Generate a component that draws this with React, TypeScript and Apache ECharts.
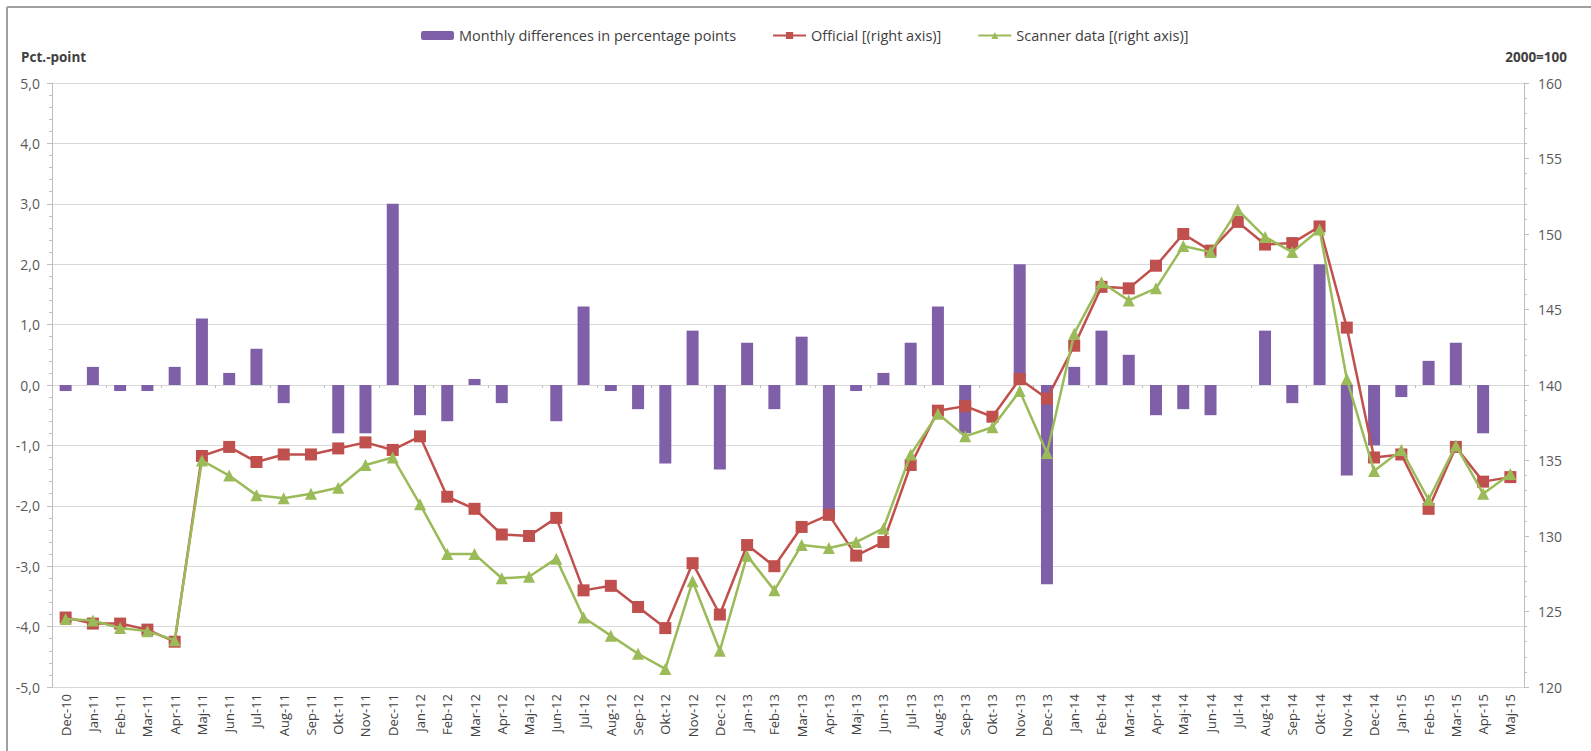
import React, { useEffect, useRef } from "react";
import * as echarts from "echarts";

const categories: string[] = [
  "Dec-10",
  "Jan-11", "Feb-11", "Mar-11", "Apr-11", "Maj-11", "Jun-11", "Jul-11", "Aug-11", "Sep-11", "Okt-11", "Nov-11", "Dec-11",
  "Jan-12", "Feb-12", "Mar-12", "Apr-12", "Maj-12", "Jun-12", "Jul-12", "Aug-12", "Sep-12", "Okt-12", "Nov-12", "Dec-12",
  "Jan-13", "Feb-13", "Mar-13", "Apr-13", "Maj-13", "Jun-13", "Jul-13", "Aug-13", "Sep-13", "Okt-13", "Nov-13", "Dec-13",
  "Jan-14", "Feb-14", "Mar-14", "Apr-14", "Maj-14", "Jun-14", "Jul-14", "Aug-14", "Sep-14", "Okt-14", "Nov-14", "Dec-14",
  "Jan-15", "Feb-15", "Mar-15", "Apr-15", "Maj-15",
];

const monthlyDiff: number[] = [
  -0.1,
  0.3, -0.1, -0.1, 0.3, 1.1, 0.2, 0.6, -0.3, 0, -0.8, -0.8, 3.0,
  -0.5, -0.6, 0.1, -0.3, 0, -0.6, 1.3, -0.1, -0.4, -1.3, 0.9, -1.4,
  0.7, -0.4, 0.8, -2.2, -0.1, 0.2, 0.7, 1.3, -0.8, 0, 2.0, -3.3,
  0.3, 0.9, 0.5, -0.5, -0.4, -0.5, 0, 0.9, -0.3, 2.0, -1.5, -1.0,
  -0.2, 0.4, 0.7, -0.8, 0,
];

const official: number[] = [
  124.6,
  124.2, 124.2, 123.8, 123.0, 135.3, 135.9, 134.9, 135.4, 135.4, 135.8, 136.2, 135.7,
  136.6, 132.6, 131.8, 130.1, 130.0, 131.2, 126.4, 126.7, 125.3, 123.9, 128.2, 124.8,
  129.4, 128.0, 130.6, 131.4, 128.7, 129.6, 134.7, 138.3, 138.6, 137.9, 140.4, 139.1,
  142.6, 146.5, 146.4, 147.9, 150.0, 148.9, 150.8, 149.3, 149.4, 150.5, 143.8, 135.2,
  135.4, 131.8, 135.9, 133.6, 133.9,
];

const scanner: number[] = [
  124.5,
  124.4, 123.9, 123.7, 123.1, 135.0, 134.0, 132.7, 132.5, 132.8, 133.2, 134.7, 135.2,
  132.1, 128.8, 128.8, 127.2, 127.3, 128.5, 124.6, 123.4, 122.2, 121.2, 127.0, 122.4,
  128.7, 126.4, 129.4, 129.2, 129.6, 130.5, 135.4, 138.1, 136.6, 137.2, 139.6, 135.5,
  143.4, 146.8, 145.6, 146.4, 149.2, 148.8, 151.6, 149.8, 148.8, 150.3, 140.4, 134.3,
  135.7, 132.4, 136.0, 132.8, 134.1,
];

const seriesNames = [
  "Monthly differences in percentage points",
  "Official [(right axis)]",
  "Scanner data [(right axis)]",
];

const FONT = "'Open Sans', 'DejaVu Sans', sans-serif";

export default function App() {
  const ref = useRef<HTMLDivElement>(null);

  useEffect(() => {
    if (!ref.current) return;
    const chart = echarts.init(ref.current, undefined, { renderer: "svg" });
    const axisGray = "#BFBFBF";
    const gridGray = "#D9D9D9";
    const textGray = "#404040";

    chart.setOption({
      animation: false,
      backgroundColor: "#FFFFFF",
      textStyle: { fontFamily: FONT },
      graphic: [
        { type: "line", shape: { x1: 7, y1: 7, x2: 1591, y2: 7 }, style: { stroke: "#A0A0A0", lineWidth: 2 } },
        { type: "line", shape: { x1: 7, y1: 7, x2: 7, y2: 751 }, style: { stroke: "#A0A0A0", lineWidth: 2 } },
        {
          type: "text", left: 21, top: 50,
          style: { text: "Pct.-point", font: `bold 13.5px ${FONT}`, fill: textGray },
        },
        {
          type: "text", right: 24, top: 50,
          style: { text: "2000=100", font: `bold 13.5px ${FONT}`, fill: textGray },
        },
      ],
      legend: {
        left: 416,
        top: 23,
        itemGap: 36,
        itemWidth: 33,
        itemHeight: 9,
        textStyle: { fontSize: 14.5, color: textGray, fontFamily: FONT },
        data: seriesNames,
      },
      grid: { left: 52, right: 67, top: 83, bottom: 64, containLabel: false },
      xAxis: [
        {
          type: "category",
          data: categories,
          position: "bottom",
          axisLine: { show: false, onZero: false },
          axisTick: { show: false },
          axisLabel: { rotate: 90, margin: 7, fontSize: 13, color: textGray, interval: 0, fontFamily: FONT },
          splitLine: { show: false },
        },
        {
          type: "category",
          data: categories,
          position: "bottom",
          axisLine: { show: true, onZero: true, onZeroAxisIndex: 0, lineStyle: { color: gridGray } },
          axisTick: { show: true, length: 3, lineStyle: { color: axisGray } },
          axisLabel: { show: false },
          splitLine: { show: false },
        },
      ],
      yAxis: [
        {
          type: "value",
          min: -5,
          max: 5,
          interval: 1,
          position: "left",
          axisLine: { show: true, lineStyle: { color: axisGray } },
          axisTick: { show: true, length: 5, lineStyle: { color: axisGray } },
          minorTick: { show: true, splitNumber: 5, length: 3, lineStyle: { color: axisGray } },
          splitLine: { show: true, lineStyle: { color: gridGray, width: 1 } },
          axisLabel: {
            margin: 12,
            fontSize: 14,
            color: "#595959",
            fontFamily: FONT,
            formatter: (v: number) => v.toFixed(1).replace(".", ","),
          },
        },
        {
          type: "value",
          min: 120,
          max: 160,
          interval: 5,
          position: "right",
          axisLine: { show: true, lineStyle: { color: axisGray } },
          axisTick: { show: true, length: 5, lineStyle: { color: axisGray } },
          minorTick: { show: true, splitNumber: 5, length: 3, lineStyle: { color: axisGray } },
          splitLine: { show: false },
          axisLabel: { margin: 14, fontSize: 14, color: "#595959", fontFamily: FONT },
        },
      ],
      series: [
        {
          name: seriesNames[0],
          type: "bar",
          xAxisIndex: 0,
          yAxisIndex: 0,
          data: monthlyDiff,
          barWidth: 12,
          itemStyle: { color: "#7F60A8" },
          z: 2,
        },
        {
          name: seriesNames[1],
          type: "line",
          xAxisIndex: 0,
          yAxisIndex: 1,
          data: official,
          symbol: "rect",
          symbolSize: 12,
          lineStyle: { color: "#C0504D", width: 2.5 },
          itemStyle: { color: "#C0504D" },
          z: 3,
        },
        {
          name: seriesNames[2],
          type: "line",
          xAxisIndex: 0,
          yAxisIndex: 1,
          data: scanner,
          symbol: "triangle",
          symbolSize: 12,
          lineStyle: { color: "#9BBB59", width: 2.5 },
          itemStyle: { color: "#9BBB59" },
          z: 4,
        },
      ],
    });

    return () => chart.dispose();
  }, []);

  return (
    <div
      ref={ref}
      style={{ position: "fixed", left: 0, top: 0, width: 1591, height: 751, background: "#fff" }}
    />
  );
}
